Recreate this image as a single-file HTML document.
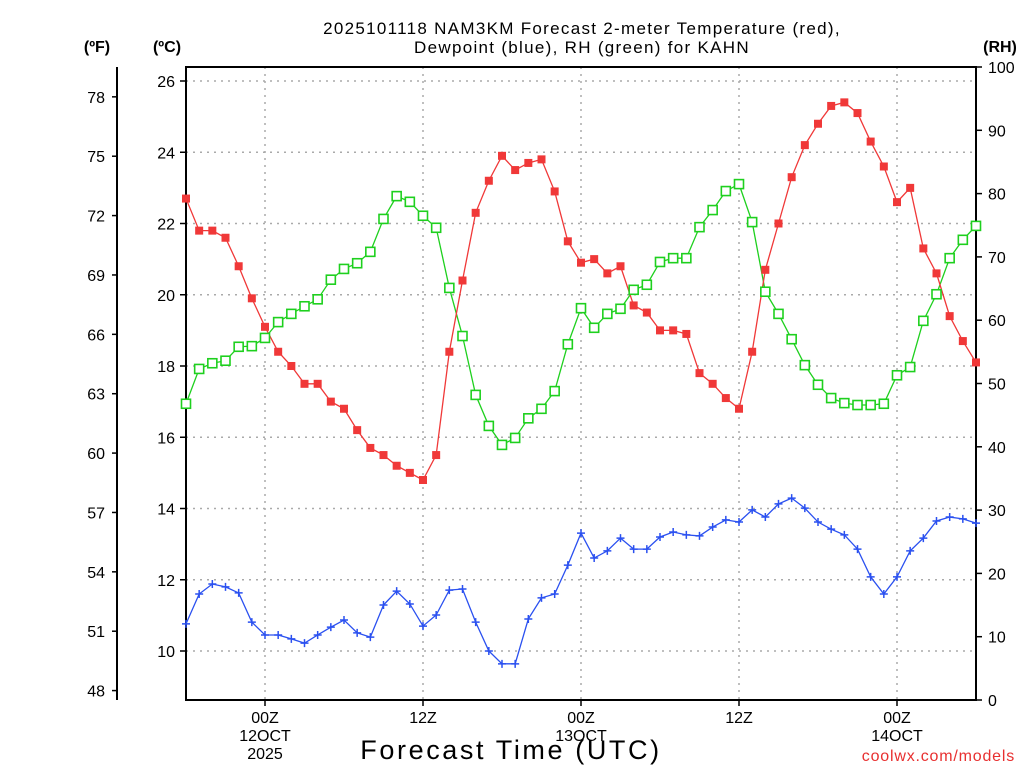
<!DOCTYPE html>
<html><head><meta charset="utf-8"><style>
body{margin:0;background:#fff;width:1024px;height:768px;overflow:hidden}
svg{font-family:"Liberation Sans",sans-serif}
</style></head><body>
<svg id="chart" width="1024" height="768" xmlns="http://www.w3.org/2000/svg">
<text x="582" y="34" font-size="17" text-anchor="middle" letter-spacing="1.3">2025101118 NAM3KM Forecast 2-meter Temperature (red),</text>
<text x="582" y="53" font-size="17" text-anchor="middle" letter-spacing="1.3">Dewpoint (blue), RH (green) for KAHN</text>
<text x="97" y="52" font-size="16" font-weight="bold" text-anchor="middle">(ºF)</text>
<text x="167" y="52" font-size="16" font-weight="bold" text-anchor="middle">(ºC)</text>
<text x="1000" y="52" font-size="16" font-weight="bold" text-anchor="middle">(RH)</text>
<text x="511" y="759" font-size="27" text-anchor="middle" letter-spacing="2.6">Forecast Time (UTC)</text>
<text x="1015" y="761" font-size="16" fill="#e83030" text-anchor="end" letter-spacing="0.8">coolwx.com/models</text>
<g id="grid"></g><g id="axes"></g><g id="series"></g>
</svg>
<script>
const hours = Array.from({length:61},(_,i)=>i); // hours after 2025-10-11 18Z
const tempC = [22.7,21.8,21.8,21.6,20.8,19.9,19.1,18.4,18.0,17.5,17.5,17.0,16.8,16.2,15.7,15.5,15.2,15.0,14.8,15.5,18.4,20.4,22.3,23.2,23.9,23.5,23.7,23.8,22.9,21.5,20.9,21.0,20.6,20.8,19.7,19.5,19.0,19.0,18.9,17.8,17.5,17.1,16.8,18.4,20.7,22.0,23.3,24.2,24.8,25.3,25.4,25.1,24.3,23.6,22.6,23.0,21.3,20.6,19.4,18.7,18.1];
const dewC = [10.76,11.60,11.88,11.80,11.63,10.81,10.45,10.45,10.34,10.22,10.45,10.67,10.87,10.51,10.39,11.29,11.68,11.32,10.70,11.01,11.71,11.74,10.81,10.0,9.64,9.64,10.90,11.49,11.60,12.41,13.31,12.61,12.81,13.17,12.86,12.86,13.20,13.34,13.26,13.23,13.48,13.68,13.62,13.96,13.76,14.13,14.29,14.01,13.62,13.42,13.26,12.86,12.08,11.60,12.08,12.81,13.17,13.65,13.76,13.71,13.59];
const rh = [46.8,52.3,53.2,53.6,55.8,55.9,57.2,59.7,61.0,62.2,63.3,66.4,68.1,69.0,70.8,76.0,79.6,78.7,76.5,74.6,65.1,57.5,48.2,43.3,40.3,41.4,44.5,46.0,48.8,56.2,61.9,58.8,61.0,61.8,64.8,65.6,69.2,69.8,69.8,74.7,77.4,80.4,81.5,75.5,64.5,61.0,57.0,52.9,49.8,47.7,46.9,46.6,46.6,46.8,51.3,52.6,59.9,64.1,69.8,72.7,74.9];
const cTicks = [10,12,14,16,18,20,22,24,26];
const fTicks = [48,51,54,57,60,63,66,69,72,75,78];
const rhTicks = [0,10,20,30,40,50,60,70,80,90,100];
const timeTicks = [6,18,30,42,54];
const timeLabels = [["00Z","12OCT","2025"],["12Z"],["00Z","13OCT"],["12Z"],["00Z","14OCT"]];

const X0=186,X1=976,Y0=67,Y1=700;
const xs=h=>X0+(X1-X0)*h/60;
const yC=c=>81+(26-c)*35.625;
const yF=f=>yC((f-32)*5/9);
const yR=r=>Y1-(Y1-Y0)*r/100;
const NS="http://www.w3.org/2000/svg";
function mk(tag,attrs,parent,txt){const e=document.createElementNS(NS,tag);for(const k in attrs)e.setAttribute(k,attrs[k]);if(txt!==undefined)e.textContent=txt;parent.appendChild(e);return e;}
const grid=document.getElementById('grid'),axes=document.getElementById('axes'),ser=document.getElementById('series');

cTicks.forEach(c=>{
  const g=mk('line',{x1:X0,x2:X1,y1:yC(c),y2:yC(c),stroke:'#aaa','stroke-dasharray':'2,5','stroke-width':1.5},grid);
  
  
  mk('line',{x1:X0-6,x2:X0,y1:yC(c),y2:yC(c),stroke:'#000','stroke-width':1.5},axes);
  const t=mk('text',{x:X0-11,y:yC(c)+6,'font-size':16,'text-anchor':'end'},axes,c);
  
  
});
timeTicks.forEach((h,i)=>{
  const g=mk('line',{x1:xs(h),x2:xs(h),y1:Y0,y2:Y1,stroke:'#aaa','stroke-dasharray':'2,5','stroke-width':1.5},grid);
  
  
  mk('line',{x1:xs(h),x2:xs(h),y1:Y1,y2:Y1+6,stroke:'#000','stroke-width':1.5},axes);
  timeLabels[i].forEach((s,j)=>{
    const t=mk('text',{x:xs(h),y:723+j*18,'font-size':16,'text-anchor':'middle'},axes,s);
    
    
  });
});
fTicks.forEach(f=>{
  mk('line',{x1:112,x2:117,y1:yF(f),y2:yF(f),stroke:'#000','stroke-width':1.5},axes);
  const t=mk('text',{x:105,y:yF(f)+6,'font-size':16,'text-anchor':'end'},axes,f);
  
  
});
rhTicks.forEach(r=>{
  mk('line',{x1:X1,x2:X1+6,y1:yR(r),y2:yR(r),stroke:'#000','stroke-width':1.5},axes);
  const t=mk('text',{x:988,y:yR(r)+6,'font-size':16},axes,r);
  
  
});
mk('line',{x1:117,x2:117,y1:Y0,y2:Y1,stroke:'#000','stroke-width':2},axes);
mk('rect',{x:X0,y:Y0,width:X1-X0,height:Y1-Y0,fill:'none',stroke:'#000','stroke-width':2},axes);

function line(vals,yf,color,name){
  const p=mk('polyline',{points:vals.map((v,i)=>xs(hours[i])+','+yf(v)).join(' '),fill:'none',stroke:color,'stroke-width':1.3},ser);
  
  
}
line(rh,yR,'#1ed01e','rh');
line(tempC,yC,'#f03838','temperature');
line(dewC,yC,'#2a50f0','dewpoint');
rh.forEach((v,i)=>{
  const m=mk('rect',{x:xs(hours[i])-4.5,y:yR(v)-4.5,width:9,height:9,fill:'#fff',stroke:'#1ed01e','stroke-width':1.6},ser);
  
  
});
tempC.forEach((v,i)=>{
  const m=mk('rect',{x:xs(hours[i])-4,y:yC(v)-4,width:8,height:8,fill:'#f03838'},ser);
  
  
});
dewC.forEach((v,i)=>{
  const x=xs(hours[i]),y=yC(v);
  const m=mk('path',{d:`M${x-4},${y}H${x+4}M${x},${y-4}V${y+4}`,stroke:'#2a50f0','stroke-width':1.5},ser);
  
  
});
</script>
</body></html>
